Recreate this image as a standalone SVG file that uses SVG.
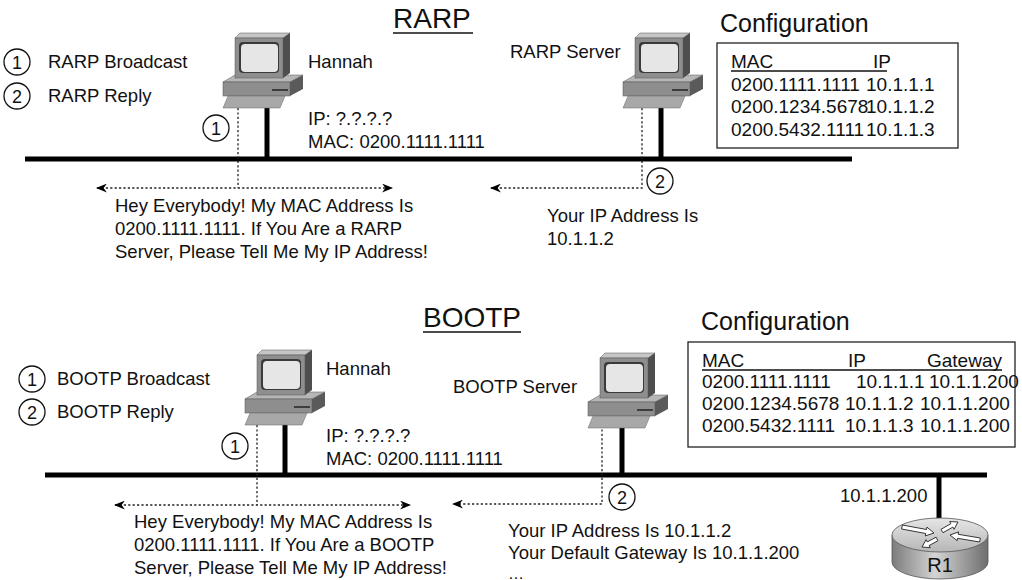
<svg xmlns="http://www.w3.org/2000/svg" xmlns:xlink="http://www.w3.org/1999/xlink" width="1022" height="580" viewBox="0 0 1022 580">
<style>
text{font-family:"Liberation Sans",Arial,Helvetica,sans-serif;fill:#111;font-size:18.5px}
.title{font-size:28px}
.conf{font-size:25px}
.tbl{font-size:19px}
.num{font-size:18px;text-anchor:middle}
.circ{fill:#fff;stroke:#111;stroke-width:1.3}
.bus{stroke:#000;stroke-width:5;fill:none}
.drop{stroke:#000;stroke-width:5;fill:none}
.dot{stroke:#222;stroke-width:1.3;stroke-dasharray:2.2 2.2;fill:none}
.ul{stroke:#111;stroke-width:1.4}
.box{fill:#fff;stroke:#222;stroke-width:1.3}
</style>
<defs>
<marker id="ah" viewBox="0 0 10 8" refX="9" refY="4" markerWidth="11" markerHeight="9" markerUnits="userSpaceOnUse" orient="auto-start-reverse">
<path d="M0,0 L10,4 L0,8 L3,4 Z" fill="#000"/>
</marker>
<linearGradient id="rside" x1="0" y1="0" x2="1" y2="0">
<stop offset="0" stop-color="#7c7c7c"/><stop offset="0.45" stop-color="#d4d4d4"/><stop offset="1" stop-color="#6e6e6e"/>
</linearGradient>
<linearGradient id="rtop" x1="0" y1="0" x2="0" y2="1">
<stop offset="0" stop-color="#e6e6e6"/><stop offset="1" stop-color="#b6b6b6"/>
</linearGradient>
<g id="pc">
<path d="M0,49 L12,42 L80,42 L67,49 Z" fill="#b6b6b6" stroke="#555" stroke-width="0.5"/>
<rect x="0" y="49" width="67" height="14" fill="#8e8e8e" stroke="#555" stroke-width="0.5"/>
<path d="M67,49 L80,42 L80,56 L67,63 Z" fill="#5a5a5a"/>
<path d="M49,57 H65" stroke="#222" stroke-width="1.5"/>
<path d="M12,5 L17,0 L67,0 L60,5 Z" fill="#c6c6c6" stroke="#555" stroke-width="0.5"/>
<path d="M60,5 L67,0 L67,40 L60,45 Z" fill="#4e4e4e"/>
<rect x="12" y="5" width="48" height="40" fill="#8e8e8e" stroke="#555" stroke-width="0.5"/>
<rect x="16" y="9" width="40" height="31" rx="4" fill="#3a3a3a"/>
<rect x="18" y="11" width="37" height="28" rx="4" fill="#e6e6e6"/>
<path d="M5,63 L62,63 L57,75 L0,75 Z" fill="#a8a8a8" stroke="#666" stroke-width="0.5"/>
</g>
</defs>
<rect width="1022" height="580" fill="#fff"/>

<!-- ================= RARP ================= -->
<g id="rarp-title">
<text class="title" x="393" y="28">RARP</text>
<line class="ul" x1="393" y1="33" x2="473" y2="33"/>
</g>
<g id="rarp-legend">
<circle class="circ" cx="17" cy="62" r="13"/><text class="num" x="17" y="68.5">1</text>
<text x="48" y="68">RARP Broadcast</text>
<circle class="circ" cx="17" cy="96" r="13"/><text class="num" x="17" y="102.5">2</text>
<text x="48" y="102">RARP Reply</text>
</g>
<g id="rarp-bus"><path class="bus" d="M25,159 H852"/></g>
<g id="rarp-connectors">
<path class="drop" d="M267,108 V159"/>
<path class="drop" d="M661,108 V159"/>
<path class="dot" d="M238,108 V188"/>
<path class="dot" d="M97,188 H392" marker-start="url(#ah)" marker-end="url(#ah)"/>
<path class="dot" d="M642,108 V188 H491" marker-end="url(#ah)"/>
</g>
<g id="rarp-hannah">
<use xlink:href="#pc" x="223" y="33"/>
<text x="308" y="68">Hannah</text>
<text x="308" y="125">IP: ?.?.?.?</text>
<text x="308" y="148">MAC: 0200.1111.1111</text>
<circle class="circ" cx="216" cy="128" r="13"/><text class="num" x="216" y="134.5">1</text>
</g>
<g id="rarp-server">
<use xlink:href="#pc" x="623" y="33"/>
<text x="510" y="58">RARP Server</text>
<circle class="circ" cx="660" cy="181" r="13"/><text class="num" x="660" y="187.5">2</text>
</g>
<g id="rarp-config">
<text class="conf" x="720" y="32">Configuration</text>
<rect class="box" x="717" y="43" width="241" height="105"/>
<text class="tbl" x="731" y="68">MAC</text><text class="tbl" x="873" y="68">IP</text>
<line class="ul" x1="731" y1="71" x2="887" y2="71"/>
<text class="tbl" x="731" y="91">0200.1111.1111</text><text class="tbl" x="866" y="91">10.1.1.1</text>
<text class="tbl" x="731" y="113">0200.1234.5678</text><text class="tbl" x="866" y="113">10.1.1.2</text>
<text class="tbl" x="731" y="136">0200.5432.1111</text><text class="tbl" x="866" y="136">10.1.1.3</text>
</g>
<g id="rarp-msg1">
<text x="115" y="212">Hey Everybody! My MAC Address Is</text>
<text x="115" y="235">0200.1111.1111. If You Are a RARP</text>
<text x="115" y="258">Server, Please Tell Me My IP Address!</text>
</g>
<g id="rarp-msg2">
<text x="547" y="222">Your IP Address Is</text>
<text x="547" y="245">10.1.1.2</text>
</g>

<!-- ================= BOOTP ================= -->
<g id="bootp-title">
<text class="title" x="423" y="327">BOOTP</text>
<line class="ul" x1="423" y1="332" x2="521" y2="332"/>
</g>
<g id="bootp-legend">
<circle class="circ" cx="32" cy="379" r="13"/><text class="num" x="32" y="385.5">1</text>
<text x="57" y="385">BOOTP Broadcast</text>
<circle class="circ" cx="32" cy="412" r="13"/><text class="num" x="32" y="418.5">2</text>
<text x="57" y="418">BOOTP Reply</text>
</g>
<g id="bootp-bus"><path class="bus" d="M45,475 H987"/></g>
<g id="bootp-connectors">
<path class="drop" d="M285,425 V475"/>
<path class="drop" d="M622,425 V475"/>
<path class="drop" d="M939,475 V520"/>
<path class="dot" d="M257,425 V505"/>
<path class="dot" d="M115,505 H410" marker-start="url(#ah)" marker-end="url(#ah)"/>
<path class="dot" d="M602,425 V504 H453" marker-end="url(#ah)"/>
</g>
<g id="bootp-hannah">
<use xlink:href="#pc" x="245" y="350"/>
<text x="326" y="375">Hannah</text>
<text x="326" y="442">IP: ?.?.?.?</text>
<text x="326" y="465">MAC: 0200.1111.1111</text>
<circle class="circ" cx="235" cy="446" r="13"/><text class="num" x="235" y="452.5">1</text>
</g>
<g id="bootp-server">
<use xlink:href="#pc" x="588" y="353"/>
<text x="453" y="393">BOOTP Server</text>
<circle class="circ" cx="622" cy="497" r="13"/><text class="num" x="622" y="503.5">2</text>
</g>
<g id="bootp-config">
<text class="conf" x="701" y="330">Configuration</text>
<rect class="box" x="688" y="342" width="327" height="105"/>
<text class="tbl" x="702" y="367">MAC</text><text class="tbl" x="848" y="367">IP</text><text class="tbl" x="927" y="367">Gateway</text>
<line class="ul" x1="702" y1="370" x2="1002" y2="370"/>
<text class="tbl" x="702" y="388">0200.1111.1111</text><text class="tbl" x="856" y="388">10.1.1.1</text><text class="tbl" x="929" y="388">10.1.1.200</text>
<text class="tbl" x="702" y="410">0200.1234.5678</text><text class="tbl" x="845" y="410">10.1.1.2</text><text class="tbl" x="920" y="410">10.1.1.200</text>
<text class="tbl" x="702" y="432">0200.5432.1111</text><text class="tbl" x="845" y="432">10.1.1.3</text><text class="tbl" x="920" y="432">10.1.1.200</text>
</g>
<g id="bootp-msg1">
<text x="134" y="528">Hey Everybody! My MAC Address Is</text>
<text x="134" y="551">0200.1111.1111. If You Are a BOOTP</text>
<text x="134" y="574">Server, Please Tell Me My IP Address!</text>
</g>
<g id="bootp-msg2">
<text x="508" y="537">Your IP Address Is 10.1.1.2</text>
<text x="508" y="559">Your Default Gateway Is 10.1.1.200</text>
<text x="508" y="579" style="font-size:16px">…</text>
</g>
<g id="r1">
<text x="840" y="502">10.1.1.200</text>
<path d="M892,535 V562 A48,17 0 0 0 988,562 V535 Z" fill="url(#rside)" stroke="#555" stroke-width="0.8"/>
<ellipse cx="940" cy="535" rx="48" ry="17" fill="url(#rtop)" stroke="#555" stroke-width="0.8"/>
<g fill="#fff" stroke="#222" stroke-width="0.9" stroke-linejoin="round">
<polygon points="902.4,525 926.5,529.5 926.9,527.1 934,533 925.3,535.9 925.7,533.5 901.6,529"/>
<polygon points="980.3,538 958.2,534.3 958.6,531.9 950,535 957.2,540.7 957.6,538.3 979.7,542"/>
<polygon points="941,529.3 950.9,523.7 949.7,521.5 958,522 954.1,529.3 952.9,527.1 943,532.7"/>
<polygon points="936.1,537.2 927.3,541.9 926.1,539.7 922,547 930.3,547.7 929.1,545.5 937.9,540.8"/>
</g>
<text x="940" y="572" style="font-size:20px;text-anchor:middle">R1</text>
</g>
</svg>
